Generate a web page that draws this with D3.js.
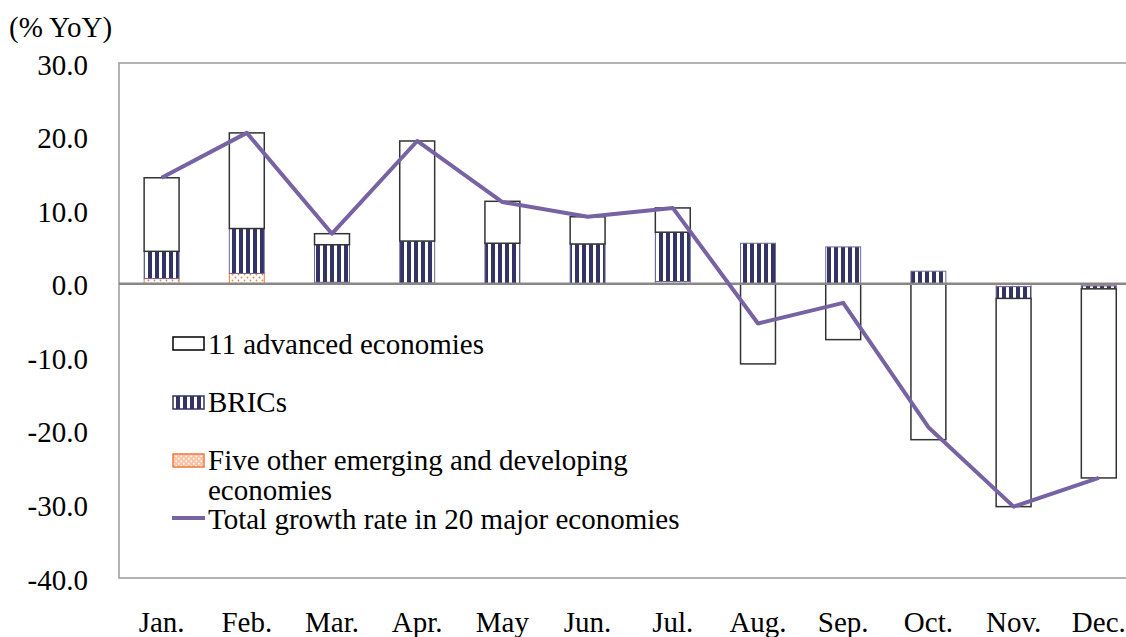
<!DOCTYPE html>
<html>
<head>
<meta charset="utf-8">
<script src="https://cdn.jsdelivr.net/npm/d3@7"></script>
<style>
  html, body { margin: 0; padding: 0; background: #fff; }
  svg { display: block; }
  text { font-family: "Liberation Serif", "Times New Roman", serif; fill: #000; }
</style>
</head>
<body>
<svg id="chart" width="1126" height="637"></svg>
<script>
// Monthly contributions to export growth (% YoY)
const months = ["Jan.", "Feb.", "Mar.", "Apr.", "May", "Jun.", "Jul.", "Aug.", "Sep.", "Oct.", "Nov.", "Dec."];
const fiveOther = [0.7, 1.4, 0.2, 0.1, -0.1, 0.0, 0.3, 0.0, 0.0, 0.0, -0.4, -0.3];
const brics     = [3.7, 6.1, 5.1, 5.7, 5.5, 5.4, 6.7, 5.5, 5.0, 1.7, -1.6, -0.4];
const advanced  = [10.0, 13.0, 1.5, 13.6, 5.7, 3.7, 3.3, -10.9, -7.6, -21.2, -28.3, -25.7];
const total     = [14.4, 20.5, 6.8, 19.4, 11.1, 9.1, 10.3, -5.4, -2.6, -19.5, -30.3, -26.4];
const yTicks = [30, 20, 10, 0, -10, -20, -30, -40];

const seriesNames = {
  fiveOther: "Five other emerging and developing economies",
  brics: "BRICs",
  advanced: "11 advanced economies",
  total: "Total growth rate in 20 major economies"
};

const FS = 29;
const svg = d3.select("#chart");
const plot = { left: 119, top: 63, right: 1141.4, bottom: 578 };

// Fill patterns
const defs = svg.append("defs");
const stripe = defs.append("pattern").attr("id", "stripes")
  .attr("patternUnits", "userSpaceOnUse").attr("width", 7).attr("height", 7);
stripe.append("rect").attr("width", 7).attr("height", 7).attr("fill", "#fff");
stripe.append("rect").attr("x", 1).attr("width", 4).attr("height", 7).attr("fill", "#333366");

const dots = defs.append("pattern").attr("id", "dots")
  .attr("patternUnits", "userSpaceOnUse").attr("width", 6).attr("height", 6);
dots.append("rect").attr("width", 6).attr("height", 6).attr("fill", "#fff");
dots.append("circle").attr("cx", 1.5).attr("cy", 1.5).attr("r", 0.9).attr("fill", "#f5834a");
dots.append("circle").attr("cx", 4.5).attr("cy", 4.5).attr("r", 0.9).attr("fill", "#f5834a");

const dotsLegend = defs.append("pattern").attr("id", "dotsLegend")
  .attr("patternUnits", "userSpaceOnUse").attr("width", 5).attr("height", 5);
dotsLegend.append("rect").attr("width", 5).attr("height", 5).attr("fill", "#f9c2a4");
dotsLegend.append("circle").attr("cx", 1.25).attr("cy", 1.25).attr("r", 0.9).attr("fill", "#fff");
dotsLegend.append("circle").attr("cx", 3.75).attr("cy", 3.75).attr("r", 0.9).attr("fill", "#fff");

// Scales
const x = d3.scaleBand().domain(months)
  .range([plot.left, plot.right]).paddingInner(0.59).paddingOuter(0.295);
const y = d3.scaleLinear().domain([-40, 30]).range([plot.bottom, plot.top]);

// Frame
svg.append("rect")
  .attr("x", plot.left).attr("y", plot.top)
  .attr("width", plot.right - plot.left).attr("height", plot.bottom - plot.top)
  .attr("fill", "none").attr("stroke", "#999").attr("stroke-width", 1.5);

// Y axis labels (plain hyphen for negatives)
const yAxis = d3.axisLeft(y).tickValues(yTicks).tickFormat(d => d.toFixed(1)).tickSize(0).tickPadding(31);
const yg = svg.append("g").attr("transform", `translate(${plot.left},0)`).call(yAxis);
yg.select(".domain").remove();
yg.selectAll("text").attr("font-size", FS).attr("font-family", "Liberation Serif").attr("dy", "0.38em");

// Unit label
svg.append("text").attr("x", 9).attr("y", 37).attr("font-size", FS).text("(% YoY)");

// Stacked bars (positive and negative parts stacked separately)
const rows = months.map((m, i) => ({ month: m, fiveOther: fiveOther[i], brics: brics[i], advanced: advanced[i] }));
const keys = ["fiveOther", "brics", "advanced"];
const stacked = d3.stack().keys(keys).offset(d3.stackOffsetDiverging)(rows);

const styles = {
  fiveOther: { fill: "url(#dots)", stroke: "#f07a3c", sw: 1 },
  brics: { fill: "url(#stripes)", stroke: "#6a6a99", sw: 1 },
  advanced: { fill: "#fff", stroke: "#333", sw: 1.5 }
};

stacked.forEach(layer => {
  const st = styles[layer.key];
  svg.append("g").selectAll("rect").data(layer).join("rect")
    .attr("x", d => x(d.data.month))
    .attr("width", x.bandwidth())
    .attr("y", d => y(Math.max(d[0], d[1])))
    .attr("height", d => Math.abs(y(d[0]) - y(d[1])))
    .attr("fill", st.fill)
    .attr("stroke", st.stroke)
    .attr("stroke-width", st.sw)
    .attr("display", d => Math.abs(d[1] - d[0]) < 0.01 ? "none" : null);
});

// Zero line
svg.append("line")
  .attr("x1", plot.left).attr("x2", plot.right)
  .attr("y1", y(0)).attr("y2", y(0))
  .attr("stroke", "#888").attr("stroke-width", 2.5);

// Total growth line
const line = d3.line().x((d, i) => x(months[i]) + x.bandwidth() / 2).y(d => y(d));
svg.append("path").datum(total)
  .attr("d", line).attr("fill", "none")
  .attr("stroke", "#7763a3").attr("stroke-width", 4).attr("stroke-linejoin", "round");

// Month labels
const xAxis = d3.axisBottom(x).tickSize(0).tickPadding(0);
const xg = svg.append("g").attr("transform", `translate(0,${plot.bottom})`).call(xAxis);
xg.select(".domain").remove();
xg.selectAll("text").attr("font-size", FS).attr("font-family", "Liberation Serif")
  .attr("dy", null).attr("y", 54);

// Legend
const lg = svg.append("g");
const lx = 173, lw = 31, lh = 13;
lg.append("rect").attr("x", lx).attr("y", 337).attr("width", lw).attr("height", lh)
  .attr("fill", "#fff").attr("stroke", "#000").attr("stroke-width", 1.5);
lg.append("text").attr("x", 208).attr("y", 354).attr("font-size", FS).text(seriesNames.advanced);

lg.append("rect").attr("x", lx).attr("y", 396).attr("width", lw).attr("height", lh)
  .attr("fill", "url(#stripes)").attr("stroke", "#333366").attr("stroke-width", 1.5);
lg.append("text").attr("x", 208).attr("y", 412).attr("font-size", FS).text(seriesNames.brics);

lg.append("rect").attr("x", lx).attr("y", 454).attr("width", lw).attr("height", lh)
  .attr("fill", "url(#dotsLegend)").attr("stroke", "#f07a3c").attr("stroke-width", 1.5);
lg.append("text").attr("x", 208).attr("y", 470).attr("font-size", FS).text("Five other emerging and developing");
lg.append("text").attr("x", 208).attr("y", 500).attr("font-size", FS).text("economies");

lg.append("line").attr("x1", lx - 1).attr("x2", lx + lw + 1).attr("y1", 518).attr("y2", 518)
  .attr("stroke", "#7763a3").attr("stroke-width", 4);
lg.append("text").attr("x", 208).attr("y", 529).attr("font-size", FS).text(seriesNames.total);
</script>
</body>
</html>
